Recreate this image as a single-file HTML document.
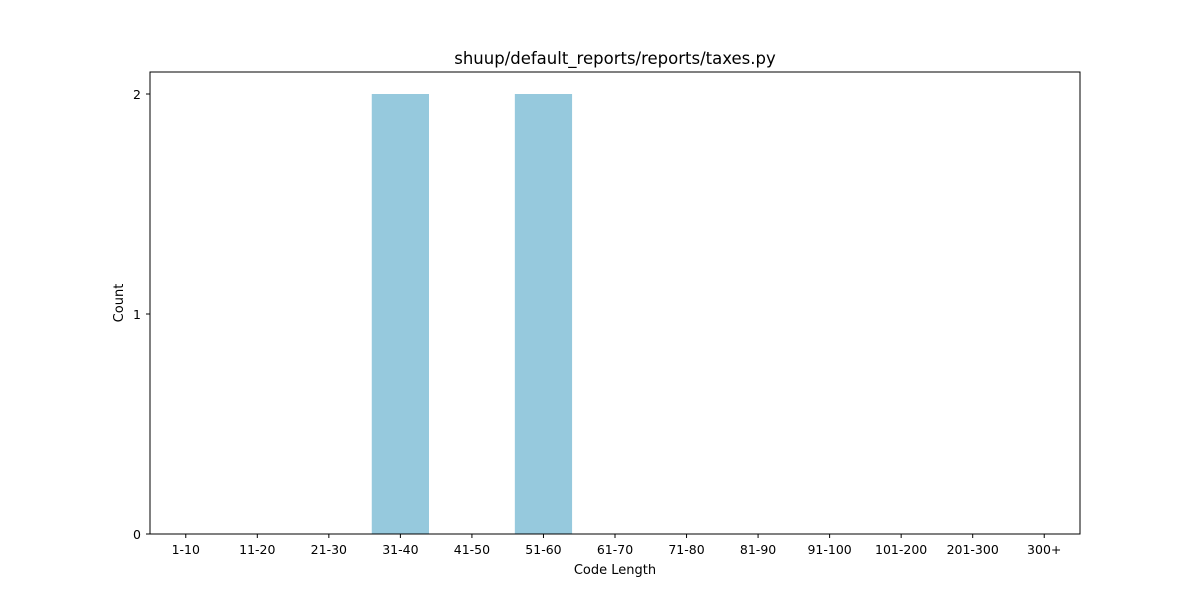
<!DOCTYPE html>
<html><head><meta charset="utf-8"><style>
body{margin:0;background:#fff;}
svg text{font-family:"DejaVu Sans","Liberation Sans",sans-serif;fill:#000;}
</style></head><body>
<svg id="chart" width="1200" height="600">
<text x="615" y="64" font-size="16.5" text-anchor="middle">shuup/default_reports/reports/taxes.py</text>
<text x="615" y="574" font-size="13" text-anchor="middle">Code Length</text>
<text x="123" y="303" font-size="13" text-anchor="middle" transform="rotate(-90 123 303)">Count</text>
<g id="bars"></g><g id="ticks"></g>
<rect x="150" y="72" width="930" height="462" fill="none" stroke="#000" stroke-width="1"/>
</svg>
<script>
const categories=["1-10","11-20","21-30","31-40","41-50","51-60","61-70","71-80","81-90","91-100","101-200","201-300","300+"];
const counts=[0,0,0,2,0,2,0,0,0,0,0,0,0];
const yTicks=[0,1,2];
const L=150,R=1080,T=72,B=534,yMax=2.1;
const step=(R-L)/categories.length;
const xc=i=>L+(i+0.5)*step;
const y=v=>B-(v/yMax)*(B-T);
const ns="http://www.w3.org/2000/svg";
const bars=document.getElementById('bars'),ticks=document.getElementById('ticks');
function mk(tag,attrs,parent){const e=document.createElementNS(ns,tag);for(const k in attrs)e.setAttribute(k,attrs[k]);parent.appendChild(e);return e;}
counts.forEach((c,i)=>{
  const w=step*0.8;
  const r=mk('rect',{x:xc(i)-w/2,y:y(c),width:w,height:B-y(c),fill:'#96c9dd'},bars);
  
  
});
categories.forEach((c,i)=>{
  const l=mk('line',{x1:xc(i),x2:xc(i),y1:B,y2:B+4,stroke:'#000'},ticks);
  
  
  const t=mk('text',{x:xc(i),y:B+20,'font-size':12.5,'text-anchor':'middle'},ticks);
  t.textContent=c;
  
  
});
yTicks.forEach(v=>{
  const l=mk('line',{x1:L-4,x2:L,y1:y(v),y2:y(v),stroke:'#000'},ticks);
  
  
  const t=mk('text',{x:L-9,y:y(v)+5,'font-size':12.5,'text-anchor':'end'},ticks);
  t.textContent=v;
  
  
});
</script>
</body></html>
